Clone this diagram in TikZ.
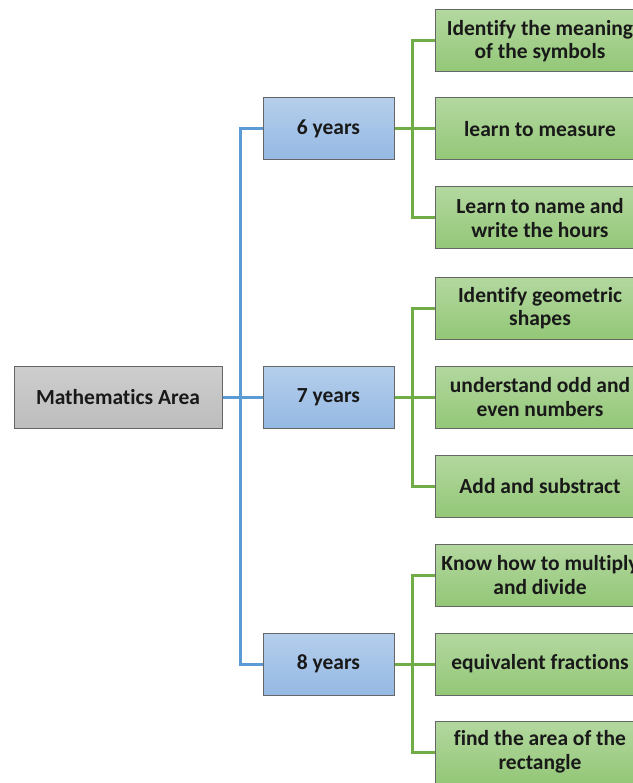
\documentclass[tikz,border=0pt]{standalone}
\usepackage{fontspec}
\setmainfont{Carlito}[Ligatures=NoCommon]
\usetikzlibrary{positioning}

\begin{document}
\begin{tikzpicture}[
    x=1pt, y=-1pt,
    font=\bfseries\fontsize{21.5}{23.5}\selectfont,
    mainnode/.style={rectangle, draw=black!60, line width=1pt, top color=cGray!75, bottom color=cGray, text=black!90, align=center, minimum width=208pt, minimum height=62pt, inner sep=1pt},
    yearnode/.style={rectangle, draw=black!60, line width=1pt, top color=cBlue!70, bottom color=cBlue, text=black!90, align=center, minimum width=131pt, minimum height=62pt, inner sep=1pt},
    tasknode/.style={rectangle, draw=black!60, line width=1pt, top color=cGreen!70, bottom color=cGreen, text=black!90, align=center, minimum width=210pt, minimum height=62pt, inner sep=1pt},
    blueline/.style={draw=cBlueLine, line width=3pt},
    greenline/.style={draw=cGreenLine, line width=3pt},
]

\definecolor{cGray}{HTML}{BDBDBD}      % Grigio
\definecolor{cBlue}{HTML}{95B9E3}      % Blu chiaro
\definecolor{cGreen}{HTML}{93C777}     % Verde chiaro
\definecolor{cBlueLine}{HTML}{5B9BD5}  % Blu
\definecolor{cGreenLine}{HTML}{70AD47} % Verde

\useasboundingbox (0,0) rectangle (632,783);

\node[mainnode] (math) at (118, 397) {Mathematics Area};

\node[yearnode] (y6) at (328.5, 129) {6 years};
\node[yearnode] (y7) at (328.5, 397) {7 years};
\node[yearnode] (y8) at (328.5, 664) {8 years};

\node[tasknode] (t61) at (540, 41)  {Identify the meaning\\of the symbols};
\node[tasknode] (t62) at (540, 129) {learn to measure};
\node[tasknode] (t63) at (540, 218) {Learn to name and\\write the hours};

\node[tasknode] (t71) at (540, 308) {Identify geometric\\shapes};
\node[tasknode] (t72) at (540, 397) {understand odd and\\even numbers};
\node[tasknode] (t73) at (540, 486) {Add and substract};

\node[tasknode] (t81) at (540, 575) {Know how to multiply\\and divide};
\node[tasknode] (t82) at (540, 664) {equivalent fractions};
\node[tasknode] (t83) at (540, 752) {find the area of the\\rectangle};

\draw[blueline] (math.east) -- (y7.west);
\draw[blueline] (y6.west) -- ++(-22,0) |- (y8.west);

\foreach \y in {6,7,8} {
    \draw[greenline] (y\y.east) -- (t\y2.west);
    \draw[greenline] (t\y1.west) -- ++(-22,0) |- (t\y3.west);
}

\end{tikzpicture}
\end{document}
